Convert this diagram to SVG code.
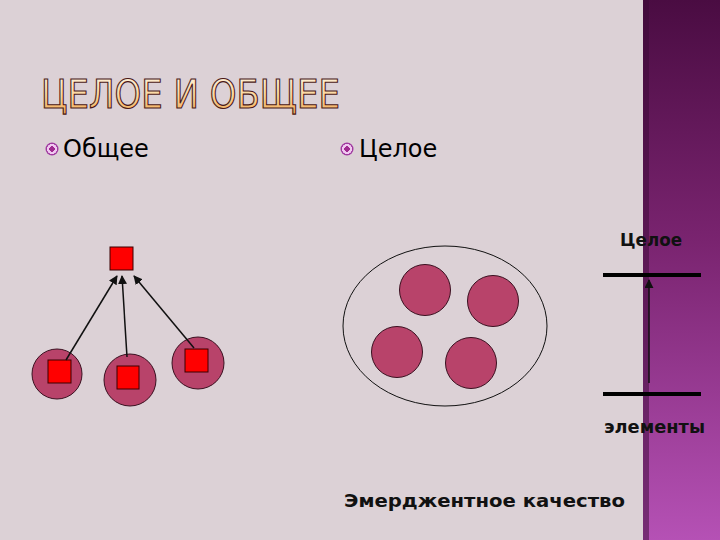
<svg xmlns="http://www.w3.org/2000/svg" width="720" height="540" viewBox="0 0 720 540">
<defs>
<linearGradient id="band" x1="0" y1="0" x2="0" y2="1">
<stop offset="0" stop-color="#4a0c42"/>
<stop offset="0.45" stop-color="#7a2470"/>
<stop offset="1" stop-color="#b551b5"/>
</linearGradient>
<linearGradient id="title" x1="0" y1="0" x2="0" y2="1">
<stop offset="0" stop-color="#fff8e8"/>
<stop offset="0.55" stop-color="#fbd498"/>
<stop offset="1" stop-color="#f0a048"/>
</linearGradient>
<marker id="ah" viewBox="0 0 10 10" refX="9" refY="5" markerWidth="6" markerHeight="6" orient="auto">
<path d="M0,0 L10,5 L0,10 z" fill="#111"/>
</marker>
<radialGradient id="bul">
<stop offset="0" stop-color="#a02a90"/>
<stop offset="0.4" stop-color="#a02a90"/>
<stop offset="0.45" stop-color="#f0c8f0"/>
<stop offset="0.75" stop-color="#f0c8f0"/>
<stop offset="0.8" stop-color="#a03aa0"/>
<stop offset="1" stop-color="#a03aa0"/>
</radialGradient>
</defs>
<style>
.txt{font-family:"DejaVu Sans","Liberation Sans",sans-serif;fill:#000}
.b{font-family:"DejaVu Sans","Liberation Sans",sans-serif;font-weight:bold;fill:#111;font-size:17px}
.blob{fill:#b8436a;stroke:#3a1020;stroke-width:1}
.sq{fill:#ff0000;stroke:#3a0000;stroke-width:1}
.conn{stroke:#111;stroke-width:1.5;fill:none;marker-end:url(#ah)}
</style>
<rect x="0" y="0" width="720" height="540" fill="#dcd1d6"/>
<rect x="643" y="0" width="77" height="540" fill="url(#band)"/>
<rect x="643" y="0" width="6" height="540" fill="#3a0a35" opacity="0.5"/>

<text x="41" y="108" font-family="'DejaVu Sans','Liberation Sans',sans-serif" font-size="39" textLength="299" lengthAdjust="spacingAndGlyphs" fill="url(#title)" stroke="#4a1818" stroke-width="1.2">ЦЕЛОЕ И ОБЩЕЕ</text>

<g id="bullet-obshchee">
<circle cx="52" cy="149" r="6.5" fill="url(#bul)"/>
<text class="txt" x="63" y="157" font-size="24">Общее</text>
</g>
<g id="bullet-tseloe">
<circle cx="347" cy="149" r="6.5" fill="url(#bul)"/>
<text class="txt" x="359" y="157" font-size="24">Целое</text>
</g>

<g id="general-top"><rect class="sq" x="110" y="247" width="23" height="23"/></g>
<g id="general-left"><circle class="blob" cx="57" cy="374" r="25"/><rect class="sq" x="48" y="360" width="23" height="23"/></g>
<g id="general-mid"><circle class="blob" cx="130" cy="380" r="26"/><rect class="sq" x="117" y="366" width="22" height="23"/></g>
<g id="general-right"><circle class="blob" cx="198" cy="363" r="26"/><rect class="sq" x="185" y="349" width="23" height="23"/></g>

<g id="whole">
<ellipse cx="445" cy="326" rx="102" ry="80" fill="none" stroke="#111" stroke-width="1"/>
<circle class="blob" cx="425" cy="290" r="25.5"/>
<circle class="blob" cx="493" cy="301" r="25.5"/>
<circle class="blob" cx="397" cy="352" r="25.5"/>
<circle class="blob" cx="471" cy="363" r="25.5"/>
</g>

<g id="level-whole">
<text class="b" x="620" y="246" textLength="62" lengthAdjust="spacingAndGlyphs">Целое</text>
<rect x="603" y="273" width="98" height="4" fill="#000"/>
</g>
<g id="level-elements">
<rect x="603" y="392" width="98" height="4" fill="#000"/>
<text class="b" x="604" y="433" textLength="101" lengthAdjust="spacingAndGlyphs">элементы</text>
</g>
<g id="emergent">
<text class="b" x="344" y="507" textLength="281" lengthAdjust="spacingAndGlyphs">Эмерджентное качество</text>
</g>

<g id="connectors">
<line class="conn" x1="66" y1="360" x2="117" y2="276"/>
<line class="conn" x1="127" y1="357" x2="122" y2="276"/>
<line class="conn" x1="194" y1="348" x2="134" y2="276"/>
<line class="conn" x1="649" y1="383" x2="649" y2="280"/>
</g>
</svg>
